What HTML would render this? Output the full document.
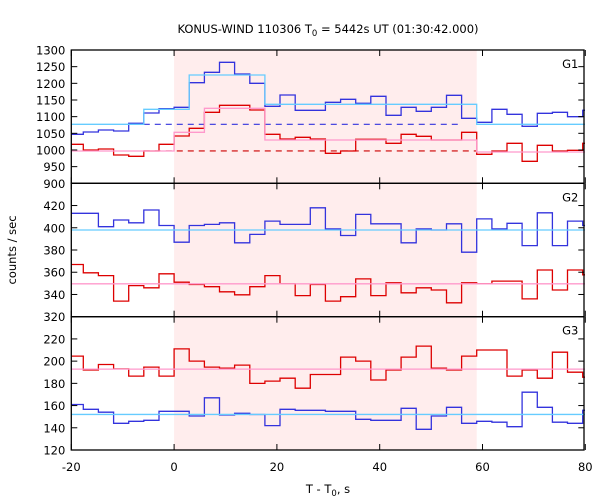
<!DOCTYPE html>
<html><head><meta charset="utf-8"><style>
body{margin:0;background:#fff}
svg{display:block;font-family:"DejaVu Sans","Liberation Sans",sans-serif}
</style></head><body>
<svg id="c" width="600" height="500" xmlns="http://www.w3.org/2000/svg">
<rect width="600" height="500" fill="#fff"/>
<text x="328" y="33" font-size="11.5" text-anchor="middle">KONUS-WIND 110306 T<tspan font-size="8.5" dy="3">0</tspan><tspan dy="-3"> = 5442s UT (01:30:42.000)</tspan></text>
<text x="328" y="493" font-size="11.5" text-anchor="middle">T - T<tspan font-size="8.5" dy="3">0</tspan><tspan dy="-3">, s</tspan></text>
<text x="16" y="250" font-size="11.5" text-anchor="middle" transform="rotate(-90 16 250)">counts / sec</text>
<defs><clipPath id="clip"><rect x="71.3" y="50" width="513.7" height="400"/></clipPath></defs>
<g id="g"></g>
</svg>
<script>
const binWidth = 2.944;
const firstBin = -7;
const xTicks = [-20, 0, 20, 40, 60, 80];
const shadeRange = [0, 58.88];

const g1Ticks = [900, 950, 1000, 1050, 1100, 1150, 1200, 1250, 1300];
const g1Blue = [1047,1054,1060,1057,1080,1111,1124, 1128,1202,1233,1263,1228,1200,1131,1165,1119,1119, 1143,1152,1140,1161,1104,1128,1116,1128,1164,1095,1083,1122,1107,1071,1110,1113,1100,1119];
const g1Red = [1017,1000,1003,985,981,997,1017, 1042,1065,1113,1134,1134,1120,1047,1033,1038,1033, 990,997,1032,1032,1020,1047,1041,1030,1030,1053,987,997,1020,966,1014,997,999,1020];
const g1BlueModel = [1077,1077,1077,1077,1077,1122,1122, 1122,1225,1225,1225,1225,1225,1137,1137,1137,1137, 1137,1137,1137,1137,1137,1137,1137,1137,1137,1137,1077,1077,1077,1077,1077,1077,1077,1077];
const g1RedModel = [997,997,997,997,997,997,997, 1053,1053,1125,1125,1125,1125,1030,1030,1030,1030, 1030,1030,1030,1030,1030,1030,1030,1030,1030,1030,994,994,994,994,994,994,994,994];
const g1BlueBg = [1077, -5.9, 55.9];
const g1RedBg = [997, -5.9, 58.9];

const g2Ticks = [320, 340, 360, 380, 400, 420];
const g2Blue = [413,413,401,407,404.5,416,402, 387,402,403,404.5,386.5,394,406,403,403,418, 399,393,412,403.6,403.6,386.5,399,398,403.6,378,408,399,404,384,413.5,384,406,402];
const g2Red = [367,359.5,357,334,348,346,358.6, 351,349,347,342.4,339.7,347,357,349.6,339,349, 334,338,354,339,350.5,341.5,346,344,332.5,350.5,349.6,352,352,336,362,344,362,357.7];
const g2BlueLevel = 398;
const g2RedLevel = 349.6;

const g3Ticks = [120, 140, 160, 180, 200, 220];
const g3Red = [204.5,192,197,193,186.5,194.6,186.5, 211,200,194.6,193.7,196.4,180,182,184.6,175.6,188, 188,203.6,200,183,192,203.6,213.5,193.7,192,204.5,210,210,186.5,192,184.6,208,190,185.5];
const g3Blue = [161,156.6,154,144,145.8,146.7,154.8, 154.8,150.6,167,151.5,153,152,142,156.6,155.7,155.7, 154.8,154.8,147.6,146.7,146.7,157.5,138.6,150.6,158.4,144,145.8,145,141,172,158.4,145,144,155.7];
const g3RedLevel = 192.8;
const g3BlueLevel = 152;

const NS = "http://www.w3.org/2000/svg";
const root = document.getElementById('g');
const X0 = 71.3, X1 = 585.3, T0 = -20, T1 = 80;
const xs = t => X0 + (t - T0) / (T1 - T0) * (X1 - X0);
const BLUE = "#3333dd", RED = "#dd0000", CYAN = "#66ccff", PINK = "#ff99cc";

function mk(tag, attrs, parent) {
  const e = document.createElementNS(NS, tag);
  for (const k in attrs) e.setAttribute(k, attrs[k]);
  (parent || root).appendChild(e);
  return e;
}
const panels = [
  {name:'g1', label:'G1', top:50, bot:183.3, vmin:900, vmax:1300, ticks:g1Ticks},
  {name:'g2', label:'G2', top:183.3, bot:316.7, vmin:320, vmax:440, ticks:g2Ticks},
  {name:'g3', label:'G3', top:316.7, bot:450, vmin:120, vmax:240, ticks:g3Ticks}
];
panels.forEach(p => { p.ys = v => p.bot - (v - p.vmin) / (p.vmax - p.vmin) * (p.bot - p.top); });

const sh = mk('rect', {x: xs(shadeRange[0]), y: 50, width: xs(shadeRange[1]) - xs(shadeRange[0]), height: 400, fill: '#ffeded'});



const plot = mk('g', {'clip-path': 'url(#clip)'});
function steps(p, vals, color, name) {
  let d = '';
  vals.forEach((v, i) => {
    const a = xs((firstBin + i) * binWidth), b = xs((firstBin + i + 1) * binWidth), y = p.ys(v);
    d += (i === 0 ? 'M' : 'L') + a.toFixed(1) + ',' + y.toFixed(1) + 'L' + b.toFixed(1) + ',' + y.toFixed(1);
  });
  const e = mk('path', {d: d, fill: 'none', stroke: color, 'stroke-width': 1.3}, plot);
  
  
}
function hline(p, v, t0, t1, color, name, dash) {
  const e = mk('line', {x1: xs(t0), x2: xs(t1), y1: p.ys(v), y2: p.ys(v), stroke: color, 'stroke-width': dash ? 1.1 : 1.3}, plot);
  if (dash) e.setAttribute('stroke-dasharray', '6,5');
  
  
}
const [P1, P2, P3] = panels;
hline(P1, g1BlueBg[0], g1BlueBg[1], g1BlueBg[2], BLUE, 'g1-blue-background-level', true);
hline(P1, g1RedBg[0], g1RedBg[1], g1RedBg[2], '#cc0000', 'g1-red-background-level', true);
steps(P1, g1Blue, BLUE, 'g1-blue-counts');
steps(P1, g1Red, RED, 'g1-red-counts');
steps(P1, g1BlueModel, CYAN, 'g1-blue-model');
steps(P1, g1RedModel, PINK, 'g1-red-model');
steps(P2, g2Blue, BLUE, 'g2-blue-counts');
steps(P2, g2Red, RED, 'g2-red-counts');
hline(P2, g2BlueLevel, T0, T1, CYAN, 'g2-blue-level');
hline(P2, g2RedLevel, T0, T1, PINK, 'g2-red-level');
steps(P3, g3Red, RED, 'g3-red-counts');
steps(P3, g3Blue, BLUE, 'g3-blue-counts');
hline(P3, g3RedLevel, T0, T1, PINK, 'g3-red-level');
hline(P3, g3BlueLevel, T0, T1, CYAN, 'g3-blue-level');

panels.forEach((p, pi) => {
  const fr = mk('rect', {x: X0, y: p.top, width: X1 - X0 - 1.3, height: p.bot - p.top, fill: 'none', stroke: '#000', 'stroke-width': 1.3});
  
  
  p.ticks.forEach(v => {
    const y = p.ys(v);
    mk('line', {x1: X0, x2: X0 + 6, y1: y, y2: y, stroke: '#000', 'stroke-width': 1});
    mk('line', {x1: X1 - 7, x2: X1 - 1, y1: y, y2: y, stroke: '#000', 'stroke-width': 1});
    const t = mk('text', {x: X0 - 6, y: y + 4.5, 'font-size': 11.5, 'text-anchor': 'end'});
    t.textContent = v;
    
    
  });
  xTicks.forEach(tv => {
    const x = xs(tv);
    mk('line', {x1: x, x2: x, y1: p.bot, y2: p.bot - 6, stroke: '#000', 'stroke-width': 1});
    mk('line', {x1: x, x2: x, y1: p.top, y2: p.top + 6, stroke: '#000', 'stroke-width': 1});
  });
  const lb = mk('text', {x: X1 - 7, y: p.top + 18, 'font-size': 11.5, 'text-anchor': 'end'});
  lb.textContent = p.label;
  
  
});
xTicks.forEach(tv => {
  const t = mk('text', {x: xs(tv), y: 471, 'font-size': 11.5, 'text-anchor': 'middle'});
  t.textContent = tv;
  
  
});
</script>
</body></html>
